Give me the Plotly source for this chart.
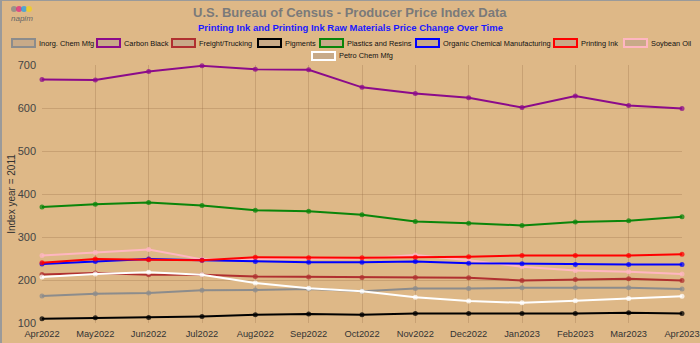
import plotly.graph_objects as go

months = ["Apr2022", "May2022", "Jun2022", "Jul2022", "Aug2022", "Sep2022", "Oct2022",
          "Nov2022", "Dec2022", "Jan2023", "Feb2023", "Mar2023", "Apr2023"]

inorg_chem = [163, 168, 170, 176, 177, 179, 174, 180, 180, 182, 182, 182, 179]
carbon_black = [666, 665, 685, 698, 690, 689, 648, 634, 624, 601, 628, 606, 599]
freight = [213, 216, 212, 212, 208, 207, 206, 206, 205, 199, 201, 203, 199]
pigments = [110, 112, 113, 115, 119, 121, 119, 122, 122, 122, 122, 124, 122]
plastics = [370, 376, 380, 373, 362, 360, 352, 336, 332, 327, 335, 338, 347]
organic_chem = [237, 243, 249, 246, 243, 241, 241, 243, 239, 238, 236, 236, 236]
printing_ink = [240, 249, 247, 246, 253, 252, 252, 253, 254, 257, 257, 257, 260]
soybean_oil = [257, 264, 271, 248, 249, 250, 250, 258, 246, 231, 222, 219, 214]
petro_chem = [207, 214, 218, 212, 193, 181, 174, 160, 151, 147, 152, 157, 162]

series_names = ["Inorg. Chem Mfg", "Carbon Black", "Freight/Trucking", "Pigments",
                "Plastics and Resins", "Organic Chemical Manufacturing", "Printing Ink",
                "Soybean Oil", "Petro Chem Mfg"]
series_values = [inorg_chem, carbon_black, freight, pigments, plastics, organic_chem,
                 printing_ink, soybean_oil, petro_chem]
series_colors = ["#8c8c8c", "#8b0a8b", "#b03030", "#000000", "#0a850a", "#0000ff",
                 "#ff0000", "#ffb6c1", "#ffffff"]

# draw order (back to front) similar to reference
draw_order = [0, 1, 2, 3, 4, 8, 7, 5, 6]

W, H = 700, 343
ML, MR, MT, MB = 42, 18, 65, 20
PW, PH = W - ML - MR, H - MT - MB

fig = go.Figure()
for i in draw_order:
    fig.add_trace(go.Scatter(
        x=months, y=series_values[i], name=series_names[i], mode="lines+markers",
        line=dict(color=series_colors[i], width=2),
        marker=dict(color=series_colors[i], size=5, opacity=0.75),
        showlegend=False, cliponaxis=False))

BG = "#deb887"

def px_x(p):
    return (p - ML) / PW

def px_y(p):
    return 1 - (p - MT) / PH

shapes = []
annotations = []

# legend
legend_items = [
    (0, 12, 43), (1, 97, 43), (2, 172, 43), (3, 258, 43), (4, 320, 43),
    (5, 416, 43), (6, 554, 43), (7, 624, 43), (8, 312, 56)]
for idx, bx, by in legend_items:
    shapes.append(dict(type="rect", xref="paper", yref="paper",
                       x0=px_x(bx), x1=px_x(bx + 23), y0=px_y(by + 4), y1=px_y(by - 4),
                       line=dict(color=series_colors[idx], width=2),
                       fillcolor="#c8aa88", layer="above"))
    annotations.append(dict(xref="paper", yref="paper", x=px_x(bx + 25), y=px_y(by),
                            text=series_names[idx], showarrow=False, xanchor="left",
                            yanchor="middle", font=dict(size=7.4, color="#111111",
                                                        family="Liberation Sans, Arial")))

# title & subtitle
annotations.append(dict(xref="paper", yref="paper", x=px_x(350), y=px_y(12),
                        text="<b>U.S. Bureau of Census - Producer Price Index Data</b>",
                        showarrow=False, xanchor="center", yanchor="middle",
                        font=dict(size=13, color="#7a7a7a", family="Liberation Sans, Arial")))
annotations.append(dict(xref="paper", yref="paper", x=px_x(350), y=px_y(28),
                        text="<b>Printing Ink and Printing Ink Raw Materials Price Change Over Time</b>",
                        showarrow=False, xanchor="center", yanchor="middle",
                        font=dict(size=9.5, color="#1a1aff", family="Liberation Sans, Arial")))

# logo-ish text
annotations.append(dict(xref="paper", yref="paper", x=px_x(22), y=px_y(19),
                        text="<i>napim</i>", showarrow=False, xanchor="center", yanchor="middle",
                        font=dict(size=8, color="#666666", family="Liberation Sans, Arial")))
for cx, col in [(14, "#888888"), (19, "#e03080"), (24, "#30a0e0"), (29, "#f0d020")]:
    shapes.append(dict(type="circle", xref="paper", yref="paper",
                       x0=px_x(cx - 3), x1=px_x(cx + 3), y0=px_y(12), y1=px_y(6),
                       fillcolor=col, line=dict(width=0), opacity=0.8))

# outer border (left and top edges)
shapes.append(dict(type="line", xref="paper", yref="paper",
                   x0=px_x(1), x1=px_x(1), y0=px_y(H), y1=px_y(0),
                   line=dict(color="#9a9a9a", width=2)))
shapes.append(dict(type="line", xref="paper", yref="paper",
                   x0=px_x(0), x1=px_x(W), y0=px_y(0.5), y1=px_y(0.5),
                   line=dict(color="#9a9a9a", width=1)))

fig.update_layout(
    width=W, height=H, paper_bgcolor=BG, plot_bgcolor=BG,
    margin=dict(l=ML, r=MR, t=MT, b=MB),
    shapes=shapes, annotations=annotations,
    font=dict(family="Liberation Sans, Arial", color="#444444"),
    xaxis=dict(type="category", range=[0, len(months) - 1], showgrid=True,
               gridcolor="rgba(150,110,70,0.3)", gridwidth=1, zeroline=False,
               tickfont=dict(size=9.3, color="#333333"), ticks="", showline=False,
               ticklabelstandoff=4, automargin=False),
    yaxis=dict(range=[100, 700], dtick=100, showgrid=True,
               gridcolor="rgba(150,110,70,0.3)", gridwidth=1, zeroline=False,
               tickfont=dict(size=11, color="#444444"), ticks="", showline=False,
               ticklabelstandoff=5, automargin=False,
               title=dict(text="Index year = 2011", font=dict(size=10, color="#333333"),
                          standoff=0)),
)

fig.write_html("out.html")
